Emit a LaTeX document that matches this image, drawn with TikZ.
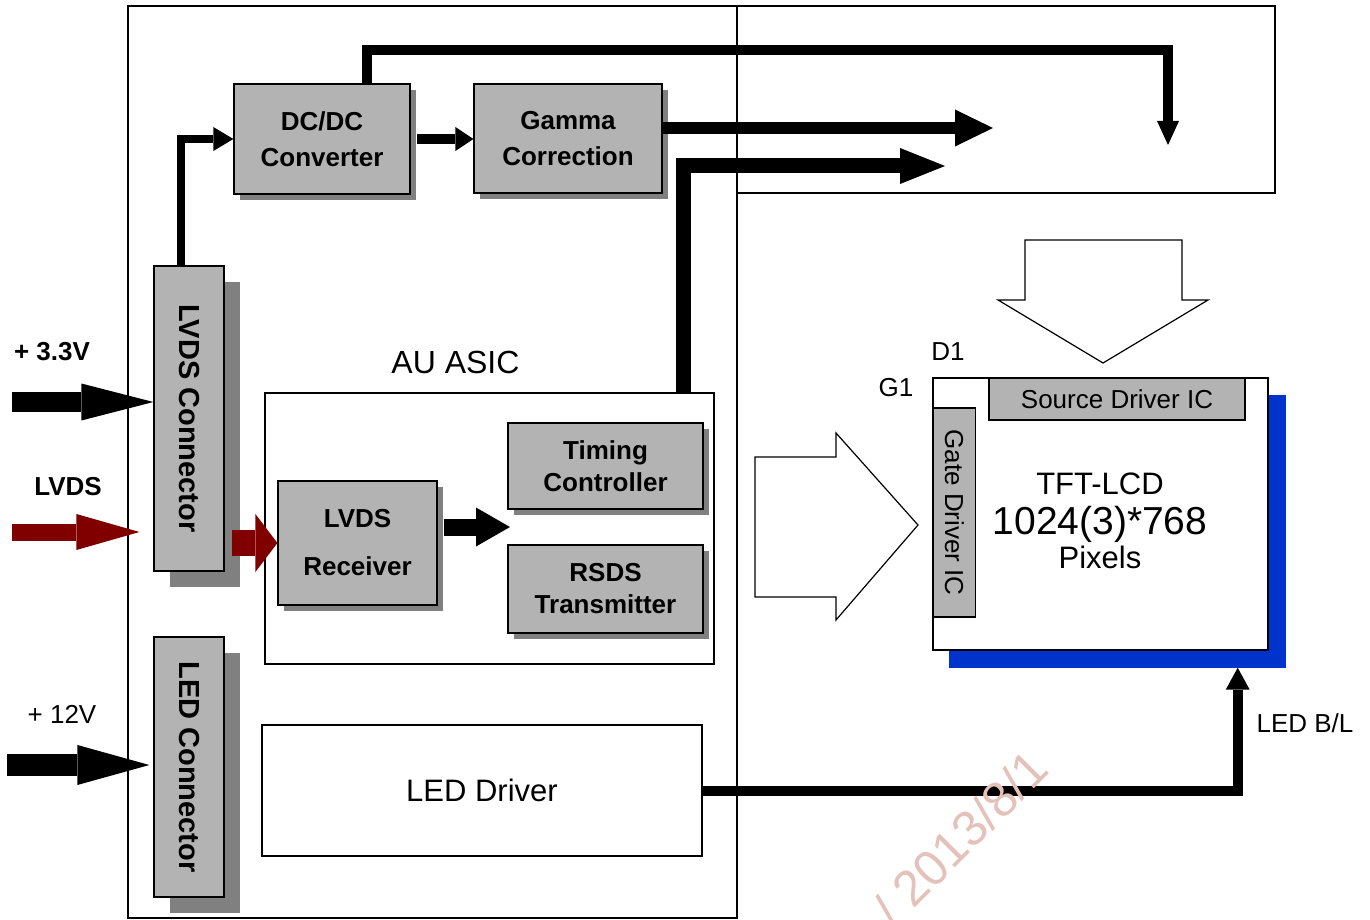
\documentclass[tikz,border=0pt]{standalone}
\usepackage{fontspec}
\setmainfont{Liberation Sans}
\usetikzlibrary{arrows.meta,positioning,shadows}

\definecolor{boxgray}{RGB}{179,179,179}
\definecolor{shadegray}{RGB}{128,128,128}
\definecolor{lvdsred}{RGB}{128,0,0}
\definecolor{blfill}{RGB}{0,51,204}
\definecolor{stamp}{RGB}{228,194,186}

\begin{document}
\begin{tikzpicture}[
        x=1pt, y=-1pt,
        every node/.style={inner sep=0pt},
        frame/.style={draw, line width=1.3pt},
        block/.style={draw, line width=1.2pt, fill=boxgray, align=center,
            font=\fontsize{26}{32}\selectfont\bfseries,
            drop shadow={shadow xshift=6pt, shadow yshift=-6pt, fill=shadegray, opacity=1}},
        connbox/.style={draw, line width=1.2pt, fill=boxgray, minimum width=70pt,
            font=\fontsize{29}{32}\selectfont\bfseries,
            drop shadow={shadow xshift=16pt, shadow yshift=-16pt, fill=shadegray, opacity=1}},
        plainbox/.style={draw, line width=1.2pt, fill=white},
        icbox/.style={draw, line width=1.2pt, fill=boxgray, font=\fontsize{26}{30}\selectfont},
        hollow/.style={draw, line width=1.2pt, fill=white},
        label/.style={font=\fontsize{26}{30}\selectfont}
    ]
    \useasboundingbox (0,0) rectangle (1370,920);

    % Frames
    \draw[frame] (128,6) rectangle (737,918);
    \draw[frame] (737,6) rectangle (1275,193);

    % Nodes
    \node[block, minimum width=176pt, minimum height=110pt] (dcdc) at (322,139) {DC/DC\\[4pt] Converter};
    \node[block, minimum width=188pt, minimum height=109pt] (gamma) at (568,138.5) {Gamma\\[4pt] Correction};

    \node[connbox, minimum height=305pt] (lvdsconn) at (189,418.5) {\rotatebox{-90}{LVDS Connector}};
    \node[connbox, minimum height=260pt] (ledconn) at (189,767) {\rotatebox{-90}{LED Connector}};

    \node[plainbox, minimum width=449pt, minimum height=271pt] (asic) at (489.5,528.5) {};
    \node[font=\fontsize{32}{36}\selectfont, above=18pt of asic.north, xshift=-34pt] (labasic) {AU ASIC};
    \node[block, minimum width=159pt, minimum height=124pt] (rx) at (357.5,543) {LVDS\\[16pt] Receiver};
    \node[block, minimum width=195pt, minimum height=86pt] (tcon) at (605.5,466) {Timing\\ Controller};
    \node[block, minimum width=195pt, minimum height=88pt] (rsds) at (605.5,589) {RSDS\\ Transmitter};

    \node[plainbox, minimum width=440pt, minimum height=131pt, font=\fontsize{31}{34}\selectfont] (leddrv) at (482,790.5) {LED Driver};

    % Panel
    \draw[hollow] (755,457) -- (836,457) -- (836,433) -- (918,525) -- (836,620) -- (836,597) -- (755,597) -- cycle;
    \draw[hollow] (1025,240) -- (1182,240) -- (1182,300) -- (1208,300) -- (1103,363) -- (998,300) -- (1025,300) -- cycle;

    \node[fill=blfill, minimum width=337pt, minimum height=273pt] (backlight) at (1117,531) {};
    \node[plainbox, minimum width=335pt, minimum height=272pt] (panel) at (1100.5,514) {};
    \node[icbox, minimum width=256pt, minimum height=42pt] (source) at (1117,399) {Source Driver IC};
    \node[icbox, minimum width=42pt, minimum height=209pt] (gate) at (954.5,512.5) {\rotatebox{-90}{Gate Driver IC}};
    \node[align=center, font=\fontsize{31}{38}\selectfont] (tfttext) at (1100,521) {TFT-LCD\\[2pt]
        {\fontsize{39}{40}\selectfont 1024(3)*768}\\[-4pt]
        Pixels};
    \node[label] (labd1) at (948,352) {D1};
    \node[label] (labg1) at (896,388) {G1};
    \node[label] (labbl) at (1305,723) {LED B/L};

    % Inputs
    \coordinate (vin33) at (12,402);
    \coordinate (lvdsin) at (12,532);
    \coordinate (vin12) at (7,765);
    \node[label, font=\fontsize{26}{30}\selectfont\bfseries] (lab33) at (52,352) {+ 3.3V};
    \node[label, font=\fontsize{26}{30}\selectfont\bfseries] (lablvds) at (68,487) {LVDS};
    \node[label] (lab12) at (62,714) {+ 12V};

    % Free ends
    \coordinate (srcdrv) at (1168,145);
    \coordinate (topbend) at (1168,50);
    \coordinate (gammaout) at (993,128);
    \coordinate (rsdsout) at (945,166);
    \coordinate (split) at (510,527);

    % Edges
    \draw[line width=20pt, -{Triangle[length=72pt,width=37pt,line width=0pt]}] (vin33) -- (vin33 -| lvdsconn.west);
    \draw[lvdsred, line width=17pt, -{Triangle[length=63pt,width=36pt,line width=0pt]}, shorten >=14pt] (lvdsin) -- (lvdsin -| lvdsconn.west);
    \draw[line width=22pt, -{Triangle[length=72pt,width=40pt,line width=0pt]}, shorten >=4pt] (vin12) -- (vin12 -| ledconn.west);

    \draw[line width=8pt, -{Triangle[length=20pt,width=24pt,line width=0pt]}] ([xshift=-8pt]lvdsconn.north) |- (dcdc.west);
    \draw[line width=10pt, -{Triangle[length=18pt,width=24pt,line width=0pt]}, shorten <=6pt] (dcdc.east) -- (dcdc.east -| gamma.west);
    \draw[line width=10pt, -{Triangle[length=24pt,width=22pt,line width=0pt]}] ([xshift=45pt]dcdc.north) |- (topbend) -- (srcdrv);
    \draw[line width=12pt, -{Triangle[length=38pt,width=37pt,line width=0pt]}] (gamma.east |- gammaout) -- (gammaout);
    \draw[line width=15pt, -{Triangle[length=45pt,width=36pt,line width=0pt]}] ([xshift=-31pt]asic.north east) |- (rsdsout);

    \draw[lvdsred, line width=26pt, -{Triangle[length=22pt,width=58pt,line width=0pt]}, shorten <=7pt] (lvdsconn.east |- rx.west) -- (rx.west);
    \draw[line width=17pt, -{Triangle[length=34pt,width=39pt,line width=0pt]}, shorten <=6pt] (rx.east |- split) -- (split);
    \draw[line width=10pt, -{Triangle[length=22pt,width=24pt,line width=0pt]}] (leddrv.east) -| ([xshift=-48pt]backlight.south east);

    % Stamp
    \node[text=stamp, rotate=45, font=\fontsize{50}{50}\selectfont] (stampdate) at (960,838) {/ 2013/8/1};
\end{tikzpicture}
\end{document}
